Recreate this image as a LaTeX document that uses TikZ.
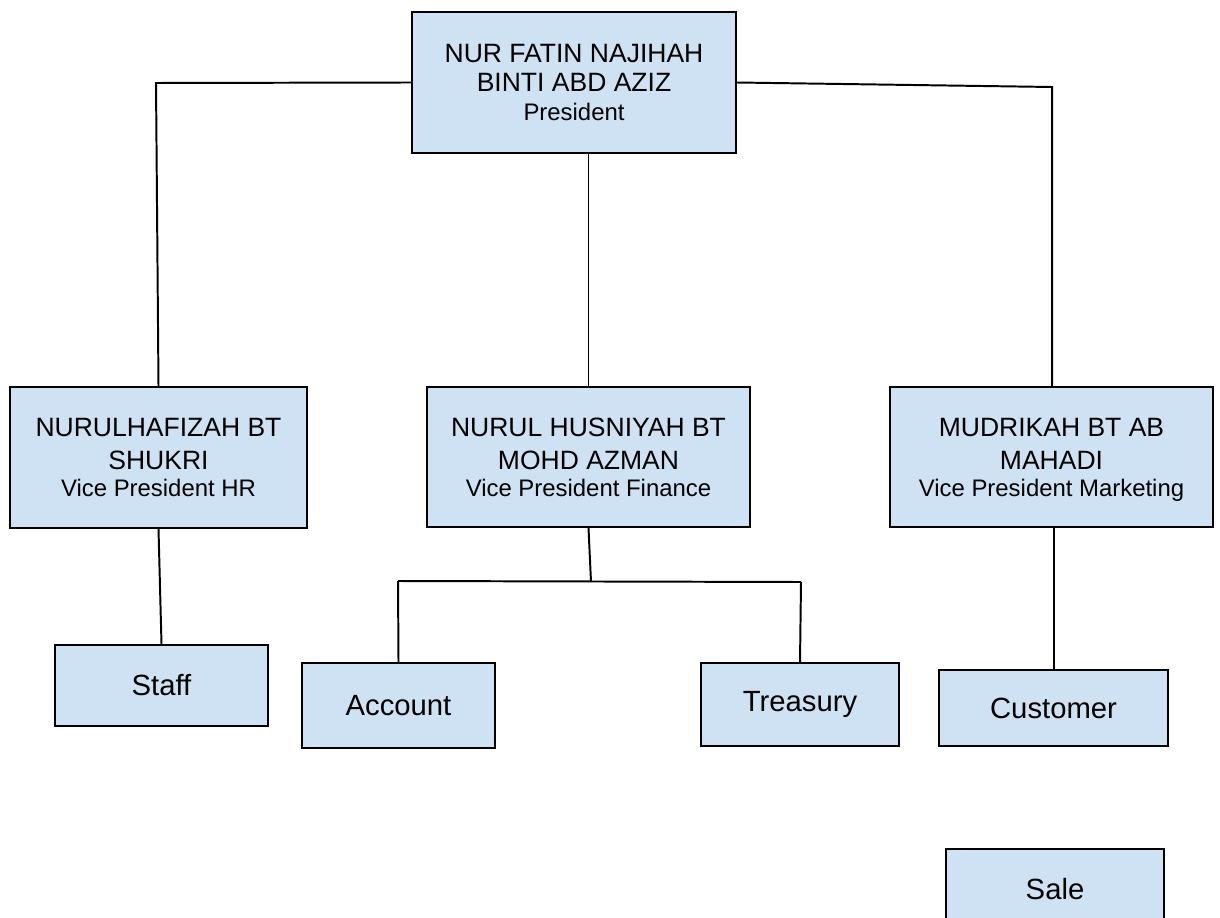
\documentclass[tikz,border=0pt]{standalone}
\usepackage{fontspec}
\setmainfont{Liberation Sans}
\usetikzlibrary{shapes,positioning}
\definecolor{boxblue}{HTML}{CFE2F3}
\newcommand{\postfont}{\fontsize{17}{20}\selectfont}
\tikzstyle{VP} = [rectangle, draw, fill=boxblue, line width=1.2pt, align=center,
    inner sep=0pt, text depth=0pt, font=\fontsize{18.85}{23.5}\selectfont]
\tikzstyle{unit} = [rectangle, draw, fill=boxblue, line width=1.2pt, align=center,
    inner sep=0pt, font=\fontsize{20.8}{24}\selectfont]
\tikzstyle{line} = [draw, line width=1.4pt]

\begin{document}
\begin{tikzpicture}[x=0.025cm, y=-0.025cm]
 \clip (0,0) rectangle (1220,918);
 \node [VP, font=\fontsize{18.85}{20.6}\selectfont, minimum width=8.1cm, minimum height=3.525cm] at (574,82.5) (pres) {NUR FATIN NAJIHAH\\BINTI ABD AZIZ\\{\postfont President}};
 \node [VP, minimum width=7.425cm, minimum height=3.525cm] at (158.5,457.5) (hr) {NURULHAFIZAH BT\\SHUKRI\\[-4.3pt]{\postfont Vice President HR}};
 \node [VP, minimum width=8.075cm, minimum height=3.5cm] at (588.5,457) (fin) {NURUL HUSNIYAH BT\\MOHD AZMAN\\[-4.3pt]{\postfont Vice President Finance}};
 \node [VP, minimum width=8.075cm, minimum height=3.5cm] at (1051.5,457) (mkt) {MUDRIKAH BT AB\\MAHADI\\[-4.3pt]{\postfont Vice President Marketing}};
 \node [unit, minimum width=5.325cm, minimum height=2.025cm] at (161.5,685.5) (staff) {Staff};
 \node [unit, minimum width=4.825cm, minimum height=2.125cm] at (398.5,705.5) (acct) {Account};
 \node [unit, minimum width=4.95cm, minimum height=2.075cm] at (800,704.5) (treas) {Treasury};
 \node [unit, minimum width=5.725cm, minimum height=1.9cm] at (1053.5,708) (cust) {Customer};
 \node [unit, minimum width=5.45cm, minimum height=2cm] at (1055,889) (sale) {Sale};
 \coordinate (hrtop) at (156,83);
 \coordinate (mkttop) at (1052,87);
 \coordinate (finjoin) at (591,582);
 \coordinate (acctjoin) at (398,581);
 \coordinate (treasjoin) at (801,582);
 \path [line] (pres.west) -- (hrtop) -- (hr.north);
 \path [line] (pres.east) -- (mkttop) -- (mkttop |- mkt.north);
 \path [line] (pres.south -| fin.north) -- (fin.north);
 \path [line] (hr.south) -- (staff.north);
 \path [line] (fin.south) -- (finjoin);
 \path [line] (acctjoin) -- (treasjoin);
 \path [line] (acctjoin) -- (acct.north);
 \path [line] (treasjoin) -- (treas.north);
 \path [line] (mkt.south -| cust.north) -- (cust.north);
\end{tikzpicture}
\end{document}
